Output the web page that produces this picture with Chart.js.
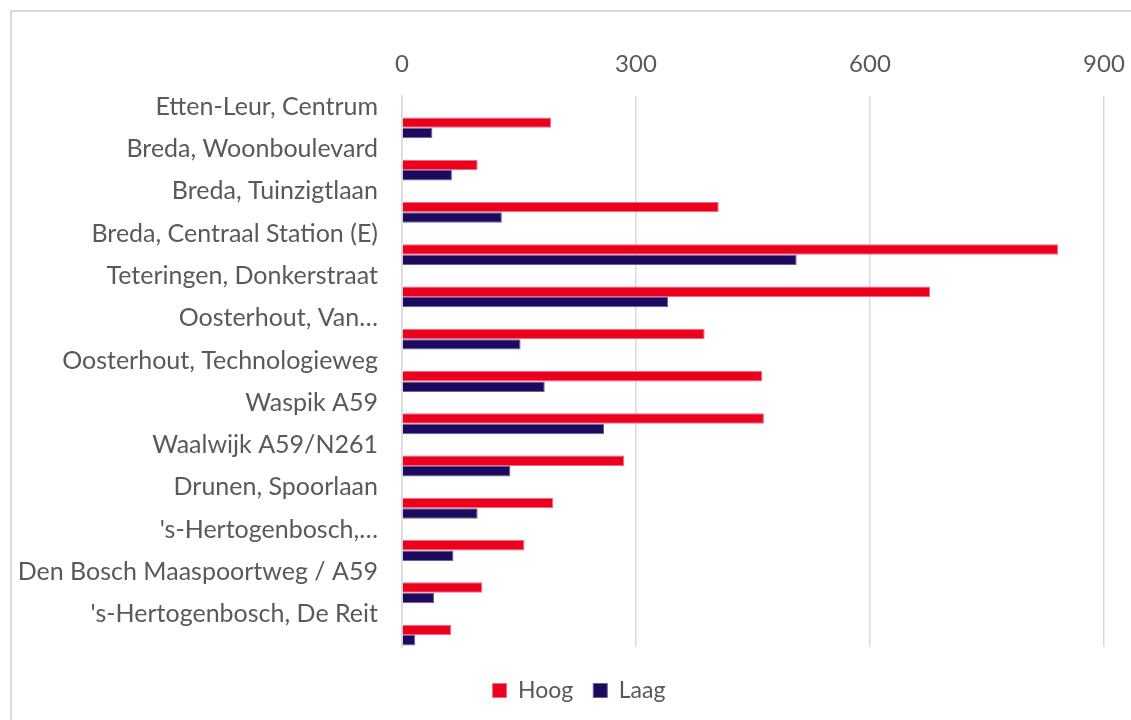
<!DOCTYPE html>
<html>
<head>
<meta charset="utf-8">
<script src="https://cdn.jsdelivr.net/npm/chart.js@4/dist/chart.umd.min.js"></script>
<style>
	html, body { margin: 0; padding: 0; background: #fff; overflow: hidden; }
	.frame { position: absolute; left: 10px; top: 10px; width: 1200px; height: 800px; border-left: 2px solid #d9d9d9; border-top: 2px solid #d9d9d9; }
	.chart-wrapper { position: absolute; left: 0; top: 0; width: 1131px; height: 720px; }
</style>
</head>
<body>
<div class="frame"></div>
<div class="chart-wrapper"><canvas id="halte-chart" width="1131" height="720"></canvas></div>
<script>
	// haltes, van boven naar beneden
	var haltes = [
		'Etten-Leur, Centrum',
		'Breda, Woonboulevard',
		'Breda, Tuinzigtlaan',
		'Breda, Centraal Station (E)',
		'Teteringen, Donkerstraat',
		'Oosterhout, Van\u2026',
		'Oosterhout, Technologieweg',
		'Waspik A59',
		'Waalwijk A59/N261',
		'Drunen, Spoorlaan',
		'\'s-Hertogenbosch,\u2026',
		'Den Bosch Maaspoortweg / A59',
		'\'s-Hertogenbosch, De Reit'
	];
	var hoog = [191, 97, 406, 841, 677, 388, 462, 464, 285, 194, 157, 103, 63];
	var laag = [39, 64, 128, 506, 341, 152, 183, 259, 139, 97, 66, 41, 17];
	var xTicks = [0, 300, 600, 900];

	var red = '#EB001E';
	var navy = '#1C0A5E';
	var grey = '#595959';
	var font = 'Lato, "Noto Sans", sans-serif';

	// linear index axis so the bars can sit where the original put them
	function toPoints(values) {
		return values.map(function (v, i) { return { x: v, y: i }; });
	}

	var data = {
		datasets: [
			{
				label: 'Hoog',
				data: toPoints(hoog),
				backgroundColor: red,
				borderColor: '#f36a7e',
				borderWidth: 1,
				categoryPercentage: 0.494,
				barPercentage: 1
			},
			{
				label: 'Laag',
				data: toPoints(laag),
				backgroundColor: navy,
				borderColor: '#6a5f9a',
				borderWidth: 1,
				categoryPercentage: 0.494,
				barPercentage: 1
			}
		]
	};

	// legend in the original sits a bit right of the middle
	var legendShift = {
		id: 'legendShift',
		afterLayout: function (chart) {
			chart.legend.left += 44;
		}
	};

	var options = {
		indexAxis: 'y',
		responsive: false,
		animation: false,
		layout: { padding: { left: 10, right: 27, top: 0, bottom: 8 } },
		plugins: {
			legend: {
				position: 'bottom',
				labels: {
					color: grey,
					font: { family: font, size: 23 },
					boxWidth: 14,
					boxHeight: 14,
					padding: 20
				}
			},
			tooltip: { enabled: false }
		},
		scales: {
			x: {
				type: 'linear',
				position: 'top',
				min: 0,
				max: 900,
				afterBuildTicks: function (scale) {
					scale.ticks = xTicks.map(function (v) { return { value: v }; });
				},
				afterFit: function (scale) {
					scale.height = 96;
					scale.paddingLeft = 0;
					scale.paddingRight = 0;
				},
				grid: { color: '#d9d9d9', lineWidth: 1.5, drawTicks: false },
				border: { display: false },
				ticks: { color: grey, font: { family: font, size: 24 }, padding: 17 }
			},
			gap: {
				type: 'linear',
				axis: 'x',
				position: 'bottom',
				display: true,
				afterFit: function (scale) {
					scale.height = 12;
					scale.paddingLeft = 0;
					scale.paddingRight = 0;
				},
				grid: { display: false, drawTicks: false },
				border: { display: false },
				ticks: { display: false }
			},
			y: {
				type: 'linear',
				reverse: true,
				offset: false,
				min: -0.753,
				max: 12.282,
				afterFit: function (scale) { scale.width = 392; },
				grid: { display: false, drawTicks: false, offset: false },
				border: { display: true, color: '#d9d9d9', width: 1.5 },
				ticks: {
					stepSize: 1,
					includeBounds: false,
					autoSkip: false,
					color: grey,
					font: { family: font, size: 25 },
					padding: 24,
					labelOffset: -21,
					callback: function (value) {
						return haltes[value] !== undefined ? haltes[value] : '';
					}
				}
			}
		}
	};

	var ctx = document.getElementById('halte-chart').getContext('2d');
	var haltesChart = new Chart(ctx, {
		type: 'bar',
		data: data,
		options: options,
		plugins: [legendShift]
	});
</script>
</body>
</html>
